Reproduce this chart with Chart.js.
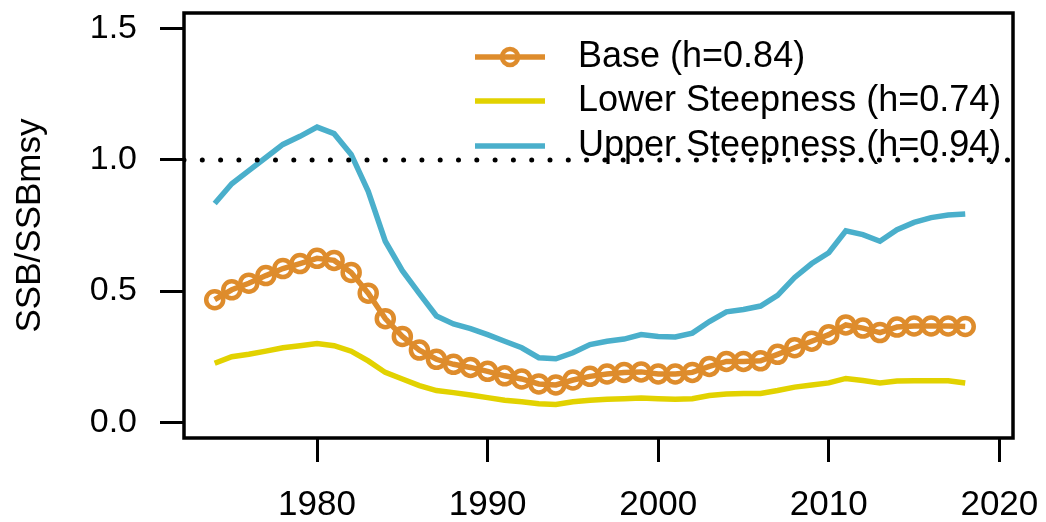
<!DOCTYPE html>
<html>
<head>
<meta charset="utf-8">
<script src="https://cdn.jsdelivr.net/npm/chart.js@4/dist/chart.umd.min.js"></script>
<style>
  html, body { margin: 0; padding: 0; background: #fff; }
  #wrap { width: 1046px; height: 522px; }
</style>
</head>
<body>
<div id="wrap"><canvas id="ssbChart"></canvas></div>
<script>
const years = [1974, 1975, 1976, 1977, 1978, 1979, 1980, 1981, 1982, 1983,
  1984, 1985, 1986, 1987, 1988, 1989, 1990, 1991, 1992, 1993,
  1994, 1995, 1996, 1997, 1998, 1999, 2000, 2001, 2002, 2003,
  2004, 2005, 2006, 2007, 2008, 2009, 2010, 2011, 2012, 2013,
  2014, 2015, 2016, 2017, 2018];

const baseRatio = [0.467, 0.505, 0.530, 0.559, 0.586, 0.605, 0.625, 0.617, 0.571, 0.492,
  0.395, 0.327, 0.275, 0.240, 0.221, 0.209, 0.194, 0.177, 0.165, 0.146,
  0.142, 0.161, 0.175, 0.184, 0.190, 0.192, 0.184, 0.184, 0.190, 0.213,
  0.232, 0.232, 0.234, 0.259, 0.284, 0.309, 0.334, 0.371, 0.359, 0.342,
  0.363, 0.367, 0.367, 0.367, 0.365];

const lowerRatio = [0.225, 0.250, 0.259, 0.271, 0.284, 0.292, 0.300, 0.292, 0.271, 0.234,
  0.190, 0.165, 0.140, 0.121, 0.113, 0.104, 0.094, 0.084, 0.078, 0.071,
  0.068, 0.078, 0.084, 0.088, 0.090, 0.092, 0.090, 0.088, 0.090, 0.102,
  0.108, 0.110, 0.110, 0.121, 0.134, 0.142, 0.150, 0.167, 0.159, 0.150,
  0.157, 0.158, 0.158, 0.158, 0.150];

const upperRatio = [0.834, 0.909, 0.959, 1.009, 1.059, 1.090, 1.125, 1.100, 1.021, 0.880,
  0.690, 0.578, 0.490, 0.405, 0.375, 0.357, 0.334, 0.309, 0.284, 0.246,
  0.242, 0.265, 0.296, 0.309, 0.317, 0.334, 0.327, 0.325, 0.340, 0.384,
  0.421, 0.430, 0.443, 0.484, 0.552, 0.605, 0.646, 0.730, 0.715, 0.690,
  0.734, 0.762, 0.780, 0.790, 0.794];

const seriesLabels = ['Base (h=0.84)', 'Lower Steepness (h=0.74)', 'Upper Steepness (h=0.94)'];
const xTicks = [1980, 1990, 2000, 2010, 2020];
const yTicks = [0.0, 0.5, 1.0, 1.5];
const refLevel = 1.0;
const xRange = [1972.2, 2020.8];
const yRange = [-0.06, 1.56];

const FONT = "'Liberation Sans', Arial, Helvetica, sans-serif";
const toPoints = (vals) => vals.map((v, i) => ({ x: years[i], y: v }));

// box round the plot, like R's box()
const boxPlugin = {
  id: 'box',
  afterDraw(chart) {
    const { ctx, chartArea: a } = chart;
    ctx.save();
    ctx.strokeStyle = '#000';
    ctx.lineWidth = 3.5;
    ctx.strokeRect(a.left, a.top, a.right - a.left, a.bottom - a.top);
    ctx.restore();
  }
};

// legend inside the plot, top right, no frame
const insideLegend = {
  id: 'insideLegend',
  beforeDatasetsDraw(chart) {
    const ctx = chart.ctx;
    const rows = [57, 101, 146];
    ctx.save();
    ctx.font = '36px ' + FONT;
    ctx.textBaseline = 'middle';
    ctx.fillStyle = '#000';
    chart.data.datasets.filter(d => d.inLegend).forEach((d, i) => {
      const y = rows[i];
      ctx.strokeStyle = d.borderColor;
      ctx.lineWidth = 5.5;
      ctx.beginPath();
      ctx.moveTo(475, y);
      ctx.lineTo(545, y);
      ctx.stroke();
      if (d.pointRadius > 0) {
        ctx.lineWidth = 4.5;
        ctx.beginPath();
        ctx.arc(510, y, 8, 0, Math.PI * 2);
        ctx.stroke();
      }
      ctx.fillText(d.label, 578, y);
    });
    ctx.restore();
  }
};

const noPad = (s) => { s.paddingTop = 0; s.paddingBottom = 0; s.paddingLeft = 0; s.paddingRight = 0; };

const ctx = document.getElementById('ssbChart').getContext('2d');
const ssbChart = new Chart(ctx, {
  type: 'line',
  data: {
    datasets: [
      {
        label: seriesLabels[0],
        inLegend: true,
        data: toPoints(baseRatio),
        borderColor: '#DE8C2C',
        backgroundColor: 'rgba(0,0,0,0)',
        borderWidth: 5.5,
        pointRadius: 8.5,
        pointBorderWidth: 4.5,
        pointBorderColor: '#DE8C2C',
        pointBackgroundColor: 'rgba(0,0,0,0)',
        tension: 0,
        order: 1
      },
      {
        label: seriesLabels[1],
        inLegend: true,
        data: toPoints(lowerRatio),
        borderColor: '#E2D200',
        borderWidth: 5.5,
        pointRadius: 0,
        tension: 0,
        order: 3
      },
      {
        label: seriesLabels[2],
        inLegend: true,
        data: toPoints(upperRatio),
        borderColor: '#4AAFCB',
        borderWidth: 5.5,
        pointRadius: 0,
        tension: 0,
        order: 2
      },
      {
        label: 'ref',
        data: [{ x: xRange[0], y: refLevel }, { x: xRange[1], y: refLevel }],
        borderColor: '#000',
        borderWidth: 5,
        borderDash: [0, 18.3],
        borderCapStyle: 'round',
        pointRadius: 0,
        order: 0
      }
    ]
  },
  options: {
    responsive: true,
    maintainAspectRatio: false,
    animation: false,
    devicePixelRatio: 1,
    layout: { padding: { top: 10, right: 33, left: 0, bottom: 0 } },
    plugins: {
      legend: { display: false },
      tooltip: { enabled: false }
    },
    scales: {
      x: {
        type: 'linear',
        min: xRange[0],
        max: xRange[1],
        afterBuildTicks: (s) => { s.ticks = xTicks.map(v => ({ value: v })); },
        afterFit: (s) => { s.height = 84; noPad(s); },
        border: { display: false },
        grid: { drawOnChartArea: false, drawTicks: true, tickLength: 24, color: '#000', lineWidth: 3 },
        ticks: {
          color: '#000',
          font: { family: FONT, size: 35 },
          padding: 22,
          maxRotation: 0,
          autoSkip: false,
          callback: (v) => String(v)
        }
      },
      y: {
        min: yRange[0],
        max: yRange[1],
        afterBuildTicks: (s) => { s.ticks = yTicks.map(v => ({ value: v })); },
        afterFit: (s) => { s.width = 184; noPad(s); },
        border: { display: false },
        grid: { drawOnChartArea: false, drawTicks: true, tickLength: 24, color: '#000', lineWidth: 3 },
        ticks: {
          color: '#000',
          font: { family: FONT, size: 34 },
          padding: 23,
          callback: (v) => v.toFixed(1)
        },
        title: {
          display: true,
          text: 'SSB/SSBmsy',
          color: '#000',
          font: { family: FONT, size: 35 },
          padding: { top: 9, bottom: 0 }
        }
      }
    }
  },
  plugins: [boxPlugin, insideLegend]
});
</script>
</body>
</html>
